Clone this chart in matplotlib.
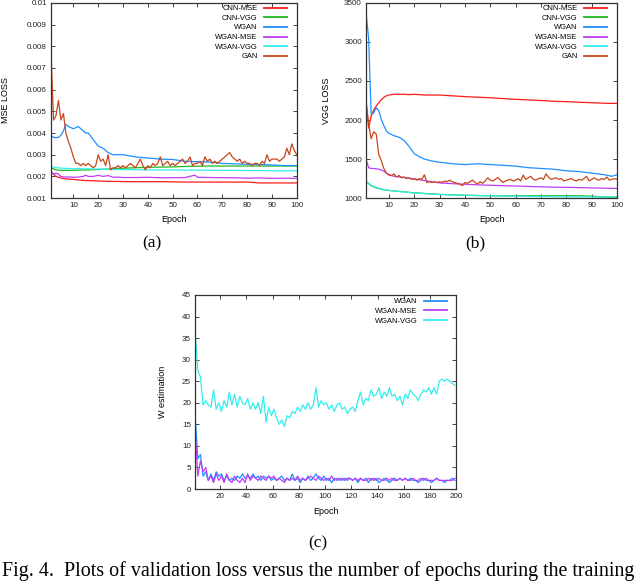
"""
Validation loss vs. epochs: MSE loss, VGG loss and W estimation panels.
"""

import numpy as np
import matplotlib.pyplot as plt

plt.rcParams['font.family'] = ['Liberation Sans', 'DejaVu Sans']

# colours of the gnuplot style lines
COLORS = {'CNN-MSE': '#ff1a1a', 'CNN-VGG': '#1fb81f', 'WGAN': '#1e8fff',
          'WGAN-MSE': '#c03cf5', 'WGAN-VGG': '#33eeee', 'GAN': '#c8461a'}

# ---- panel (a): MSE loss ----
A_EPOCHS = [1, 2, 3, 4, 5, 6, 7, 8, 10, 12, 14, 15, 16, 18, 20, 22, 24, 26, 28, 30,
            35, 40, 45, 50, 55, 59, 60, 65, 70, 75, 80, 85, 90, 95, 100]
A_CNN_MSE = [0.00225, 0.0021, 0.0020, 0.00196, 0.00193, 0.0019, 0.00189, 0.00188, 0.00186, 0.00184,
             0.00182, 0.00181, 0.00181, 0.0018, 0.00179, 0.00178, 0.00177, 0.00177, 0.00177, 0.00176,
             0.00176, 0.00176, 0.00176, 0.00175, 0.00174, 0.00174, 0.00174, 0.00174, 0.00174, 0.00174,
             0.00174, 0.0017, 0.0017, 0.0017, 0.0017]
A_CNN_VGG = [0.0024, 0.00235, 0.0023, 0.00229, 0.00228, 0.00228, 0.00228, 0.00228, 0.00228, 0.00229,
             0.0023, 0.0023, 0.0023, 0.00231, 0.00232, 0.00233, 0.00234, 0.00236, 0.00237, 0.00238,
             0.0024, 0.00242, 0.00243, 0.00244, 0.00246, 0.00247, 0.00247, 0.00248, 0.00248, 0.00248,
             0.00248, 0.00248, 0.00248, 0.00248, 0.00248]
A_WGAN = [0.0039, 0.0038, 0.00378, 0.0038, 0.0039, 0.0041, 0.0044, 0.0043, 0.0042, 0.0043,
          0.0041, 0.0040, 0.0040, 0.0037, 0.0034, 0.0033, 0.0031, 0.0030, 0.0030, 0.0030,
          0.0029, 0.00285, 0.0028, 0.00278, 0.0027, 0.00268, 0.00268, 0.00266, 0.0026, 0.00258,
          0.00256, 0.00255, 0.00253, 0.0025, 0.0025]
A_WGAN_MSE = [0.0022, 0.0021, 0.00215, 0.0021, 0.0020, 0.00198, 0.00197, 0.00198, 0.00196, 0.00197,
              0.0020, 0.00206, 0.0020, 0.0020, 0.00205, 0.0020, 0.00204, 0.00196, 0.00197, 0.00195,
              0.00195, 0.00196, 0.00194, 0.00194, 0.00195, 0.00206, 0.00196, 0.00195, 0.00194, 0.00194,
              0.00192, 0.00193, 0.00191, 0.00192, 0.00191]
A_WGAN_VGG = [0.00248, 0.00244, 0.0024, 0.0024, 0.00238, 0.00238, 0.00237, 0.00237, 0.00236, 0.00236,
              0.00235, 0.00235, 0.00235, 0.00234, 0.00234, 0.00233, 0.00233, 0.00232, 0.00232, 0.00232,
              0.00231, 0.0023, 0.0023, 0.0023, 0.00229, 0.00229, 0.00229, 0.00229, 0.00228, 0.00228,
              0.00227, 0.00227, 0.00226, 0.00226, 0.00226]
# GAN, one value per epoch 1..100
A_GAN = [0.0077, 0.0046, 0.0048, 0.0055, 0.0046, 0.0049, 0.0040, 0.0036, 0.0033, 0.0029,
         0.0026, 0.0026, 0.0025, 0.0026, 0.0025, 0.0026, 0.0025, 0.0024, 0.0025, 0.0030,
         0.0027, 0.0028, 0.0025, 0.0030, 0.0023, 0.0024, 0.0024, 0.0025, 0.0024, 0.0025,
         0.0024, 0.0025, 0.0026, 0.0025, 0.0024, 0.0026, 0.0028, 0.0025, 0.0023, 0.0025,
         0.0024, 0.0026, 0.0025, 0.0026, 0.0029, 0.0025, 0.0026, 0.0027, 0.0025, 0.0026,
         0.0025, 0.0026, 0.0027, 0.0028, 0.0026, 0.0027, 0.0029, 0.0025, 0.0026, 0.0026,
         0.0027, 0.0025, 0.0029, 0.0027, 0.0028, 0.0026, 0.0027, 0.0026, 0.0027, 0.0028,
         0.0029, 0.0030, 0.0031, 0.0029, 0.0028, 0.0027, 0.0028, 0.0026, 0.0027, 0.0026,
         0.0026, 0.0025, 0.0026, 0.0026, 0.0025, 0.0027, 0.0026, 0.0030, 0.0027, 0.0028,
         0.0028, 0.0028, 0.0027, 0.0028, 0.0029, 0.0033, 0.0030, 0.0035, 0.0032, 0.0030]
A_YTICKS = [0.001, 0.002, 0.003, 0.004, 0.005, 0.006, 0.007, 0.008, 0.009, 0.01]
A_YTICKLABELS = ['0.001', '0.002', '0.003', '0.004', '0.005', '0.006', '0.007', '0.008', '0.009', '0.01']

# ---- panel (b): VGG loss ----
B_EPOCHS = [1, 2, 3, 4, 5, 6, 7, 8, 9, 10, 12, 14, 16, 18, 20, 22, 24, 27, 30, 35,
            40, 45, 50, 55, 60, 65, 70, 75, 80, 85, 90, 95, 98, 100]
B_CNN_MSE = [2230, 1900, 2050, 2130, 2180, 2220, 2260, 2290, 2310, 2320, 2330, 2330, 2330, 2325, 2330,
             2325, 2320, 2320, 2320, 2310, 2300, 2292, 2285, 2275, 2265, 2258, 2250, 2240, 2235, 2228,
             2222, 2215, 2213, 2213]
B_CNN_VGG = [1215, 1185, 1160, 1145, 1130, 1122, 1115, 1108, 1103, 1098, 1092, 1086, 1080, 1074, 1068,
             1064, 1060, 1054, 1048, 1042, 1037, 1033, 1030, 1030, 1030, 1030, 1030, 1030, 1030, 1030,
             1025, 1015, 1013, 1013]
B_WGAN = [3370, 3050, 2080, 2090, 2160, 2120, 2010, 1930, 1860, 1830, 1800, 1780, 1740, 1660, 1570,
          1530, 1500, 1475, 1460, 1440, 1430, 1440, 1430, 1420, 1410, 1390, 1380, 1370, 1350, 1340,
          1320, 1300, 1280, 1300]
B_WGAN_MSE = [1500, 1390, 1380, 1380, 1375, 1370, 1360, 1345, 1320, 1295, 1280, 1272, 1265, 1255, 1245,
              1235, 1225, 1210, 1195, 1185, 1178, 1170, 1165, 1160, 1155, 1150, 1145, 1140, 1138, 1135,
              1130, 1128, 1125, 1124]
B_WGAN_VGG = [1225, 1190, 1165, 1150, 1135, 1125, 1118, 1110, 1105, 1100, 1092, 1085, 1078, 1072, 1066,
              1062, 1058, 1052, 1046, 1040, 1036, 1033, 1030, 1028, 1025, 1022, 1020, 1018, 1017, 1016,
              1015, 1014, 1013, 1013]
# GAN, one value per epoch 1..100
B_GAN = [2235, 1950, 1760, 1850, 1820, 1560, 1480, 1380, 1320, 1300,
         1290, 1310, 1270, 1290, 1260, 1270, 1250, 1260, 1240, 1250,
         1230, 1250, 1240, 1300, 1200, 1210, 1200, 1210, 1200, 1210,
         1200, 1220, 1210, 1230, 1210, 1200, 1190, 1180, 1160, 1200,
         1190, 1210, 1230, 1200, 1180, 1210, 1190, 1220, 1260, 1230,
         1220, 1240, 1265, 1230, 1200, 1220, 1230, 1240, 1220, 1230,
         1250, 1220, 1295, 1240, 1260, 1280, 1240, 1230, 1250, 1260,
         1240, 1310, 1270, 1240, 1250, 1260, 1240, 1250, 1220, 1230,
         1240, 1250, 1230, 1220, 1240, 1230, 1250, 1280, 1220, 1240,
         1260, 1240, 1230, 1250, 1240, 1270, 1230, 1240, 1250, 1240]

# ---- panel (c): W estimation, every second epoch 1, 3, ..., 199 ----
C_WGAN = [17, 7, 8, 3, 4, 2, 3.5, 2, 4, 3, 3.5, 2, 3, 2, 2.5, 2, 3, 2.5, 3.5, 2.5,
          3, 2.5, 3.5, 2.5, 3, 2, 3, 2.5, 3, 2, 2.5, 2, 2.5, 3, 2, 2.5, 2, 3.5, 2, 2.5,
          1.5, 2.5, 2, 3, 2, 2.5, 3.5, 2.5, 2, 3, 2, 2.5, 1.5, 2.5, 2, 2.5, 2, 2.5, 2, 2.5,
          2, 2.5, 1.5, 2.5, 2, 2.5, 1.5, 2.5, 2, 2.5, 1.5, 2, 2.5, 2, 1.5, 2, 2.5, 2, 2.5, 2,
          2.5, 2, 2.5, 2, 2, 1.5, 2, 2.5, 2, 2, 1.5, 2, 2.5, 2, 2, 1.5, 2, 2, 2.5, 2]
C_WGAN_MSE = [13, 3, 6.5, 4, 5, 2, 3, 1.5, 3.5, 2, 3, 1.5, 3.5, 2, 1.5, 3, 2, 1.5, 2.5, 1.5,
              3.5, 2, 3, 2.5, 2, 3, 2.5, 2, 3, 2.5, 3, 2, 2.5, 2, 1.5, 2.5, 2, 2.5, 2, 3,
              2, 2.5, 2, 2.5, 3, 2.5, 2, 3, 2.5, 2, 2.5, 2, 3, 2, 2.5, 2, 2.5, 2, 2.5, 2.5,
              2, 2.5, 2, 2.5, 2, 2, 2.5, 2, 2.5, 2, 2.5, 2, 2, 2.5, 2, 2.5, 2, 2, 2.5, 2,
              2.5, 2, 2, 2.5, 2, 2, 2.5, 2, 2.5, 2, 2, 2, 2.5, 2, 2, 2, 2, 2, 2, 2.5]
C_WGAN_VGG = [36, 27.5, 26, 19.5, 20.5, 19.5, 19, 23, 18.5, 20, 18, 20.5, 19, 22.5, 19.5, 22, 19, 21.5, 20, 19.5,
              21, 18.5, 20, 18.5, 20, 17.5, 21.5, 15.5, 19, 17, 18.5, 16.5, 15, 16, 14.5, 17, 16.5, 18, 17.5, 19,
              18, 19.5, 18.5, 20, 18.5, 19.5, 23.5, 19, 20.5, 19.5, 20, 18.5, 19.5, 18, 19.5, 20, 18.5, 19, 17.5, 18.5,
              19, 18, 20.5, 22.5, 19.5, 21, 20.5, 23, 21.5, 22, 23.5, 21, 22.5, 21.5, 23.5, 21.5, 22, 20.5, 21.5, 19.5,
              22, 21, 23, 22, 21.5, 20.5, 22, 23, 22.5, 23.5, 22, 23.5, 22, 25, 25.5, 25, 25.5, 25, 24.5, 24]

TICK_FS = 5.8
LEG_FS = 5.4
LABEL_FS = 6.5


def style_axes(ax, ylab_x, xlab_y):
    ax.tick_params(direction='in', length=3, width=0.6, labelsize=TICK_FS, pad=3,
                   top=True, right=True, colors='#222222')
    for sp in ax.spines.values():
        sp.set_linewidth(0.9)
        sp.set_color('#333333')
    ax.yaxis.set_label_coords(ylab_x, 0.5)
    ax.xaxis.set_label_coords(0.5, xlab_y)


def add_legend(ax, anchor):
    leg = ax.legend(loc='upper right', bbox_to_anchor=anchor, frameon=False, markerfirst=False,
                    fontsize=LEG_FS, handlelength=3.0, handletextpad=0.9, labelspacing=0.32,
                    borderaxespad=0.0)
    for line in leg.get_lines():
        line.set_linewidth(1.3)


fig = plt.figure(figsize=(6.4, 5.81), dpi=100)

# (a)
ax = fig.add_axes([0.0797, 0.659, 0.384, 0.336])
e_all = np.arange(1, 101)
ax.plot(A_EPOCHS, A_CNN_MSE, c=COLORS['CNN-MSE'], lw=0.9, label='CNN-MSE')
ax.plot(A_EPOCHS, A_CNN_VGG, c=COLORS['CNN-VGG'], lw=0.9, label='CNN-VGG')
ax.plot(A_EPOCHS, A_WGAN, c=COLORS['WGAN'], lw=0.9, label='WGAN')
ax.plot(A_EPOCHS, A_WGAN_MSE, c=COLORS['WGAN-MSE'], lw=0.9, label='WGAN-MSE')
ax.plot(A_EPOCHS, A_WGAN_VGG, c=COLORS['WGAN-VGG'], lw=0.9, label='WGAN-VGG')
ax.plot(e_all, A_GAN, c=COLORS['GAN'], lw=0.9, label='GAN')
ax.set_xlim(1, 100)
ax.set_ylim(0.001, 0.01)
ax.set_xticks(range(10, 101, 10))
ax.set_yticks(A_YTICKS)
ax.set_yticklabels(A_YTICKLABELS)
ax.set_xlabel('Epoch', fontsize=LABEL_FS)
ax.set_ylabel('MSE LOSS', fontsize=LABEL_FS)
style_axes(ax, -0.168, -0.087)
add_legend(ax, (0.972, 1.005))
fig.text(152 / 640, 1 - 243 / 581, '(a)', family='Liberation Serif', fontsize=12.5,
         ha='center', va='center')

# (b)
ax = fig.add_axes([0.572, 0.659, 0.392, 0.336])
ax.plot(B_EPOCHS, B_CNN_MSE, c=COLORS['CNN-MSE'], lw=0.9, label='CNN-MSE')
ax.plot(B_EPOCHS, B_CNN_VGG, c=COLORS['CNN-VGG'], lw=0.9, label='CNN-VGG')
ax.plot(B_EPOCHS, B_WGAN, c=COLORS['WGAN'], lw=0.9, label='WGAN')
ax.plot(B_EPOCHS, B_WGAN_MSE, c=COLORS['WGAN-MSE'], lw=0.9, label='WGAN-MSE')
ax.plot(B_EPOCHS, B_WGAN_VGG, c=COLORS['WGAN-VGG'], lw=0.9, label='WGAN-VGG')
ax.plot(e_all, B_GAN, c=COLORS['GAN'], lw=0.9, label='GAN')
ax.set_xlim(1, 100)
ax.set_ylim(1000, 3500)
ax.set_xticks(range(10, 101, 10))
ax.set_yticks(range(1000, 3501, 500))
ax.set_xlabel('Epoch', fontsize=LABEL_FS)
ax.set_ylabel('VGG LOSS', fontsize=LABEL_FS)
style_axes(ax, -0.14, -0.087)
add_legend(ax, (0.972, 1.005))
fig.text(475 / 640, 1 - 243 / 581, '(b)', family='Liberation Serif', fontsize=12.5,
         ha='center', va='center')

# (c)
ax = fig.add_axes([0.305, 0.1583, 0.408, 0.334])
e_c = np.arange(1, 201, 2)
ax.plot(e_c, C_WGAN, c=COLORS['WGAN'], lw=0.9, label='WGAN')
ax.plot(e_c, C_WGAN_MSE, c=COLORS['WGAN-MSE'], lw=0.9, label='WGAN-MSE')
ax.plot(e_c, C_WGAN_VGG, c=COLORS['WGAN-VGG'], lw=0.9, label='WGAN-VGG')
ax.set_xlim(1, 200)
ax.set_ylim(0, 45)
ax.set_xticks(range(20, 201, 20))
ax.set_yticks(range(0, 46, 5))
ax.set_xlabel('Epoch', fontsize=LABEL_FS)
ax.set_ylabel('W estimation', fontsize=LABEL_FS)
style_axes(ax, -0.107, -0.093)
add_legend(ax, (0.975, 1.0))
fig.text(318 / 640, 1 - 543 / 581, '(c)', family='Liberation Serif', fontsize=12.5,
         ha='center', va='center')

fig.text(2 / 640, 1 - 576 / 581,
         'Fig. 4.  Plots of validation loss versus the number of epochs during the training',
         family='Liberation Serif', fontsize=14.4, ha='left', va='baseline')

fig.savefig('out.png', dpi=100)
